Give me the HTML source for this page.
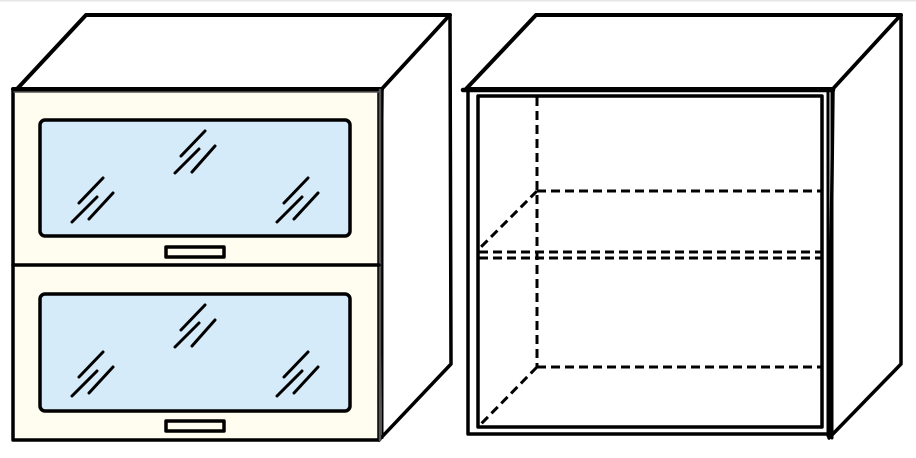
<!DOCTYPE html>
<html><head><meta charset="utf-8"><style>
html,body{margin:0;padding:0;background:#fff;}
svg{display:block;}
</style></head><body>
<svg width="916" height="458" viewBox="0 0 916 458" xmlns="http://www.w3.org/2000/svg">
<rect x="0" y="0" width="916" height="1.5" fill="#e6e6e6"/>
<g stroke="#000" stroke-linejoin="round" stroke-linecap="round" fill="none">
<!-- LEFT CABINET -->
<polygon points="17,89 86,15 450,15 382,89" fill="#fff" stroke-width="4"/>
<polygon points="382,89 450,15 451,364 379,440" fill="#fff" stroke-width="3.5"/>
<rect x="13" y="90" width="366" height="350" fill="#fffdf0" stroke-width="3.5"/>
<line x1="13" y1="89" x2="382" y2="89" stroke-width="4"/>
<line x1="14" y1="92" x2="380" y2="92" stroke="#555" stroke-width="1.5"/>
<line x1="380" y1="90" x2="380" y2="440" stroke="#555" stroke-width="2.5"/>
<line x1="382.5" y1="89" x2="382.5" y2="438" stroke-width="2"/>
<line x1="13" y1="265" x2="379" y2="265" stroke-width="3.5"/>
<rect x="40" y="120" width="310" height="116" rx="5" fill="#d6ebf9" stroke-width="3.5"/>
<rect x="166" y="247" width="58" height="10" fill="#fffdf0" stroke-width="3.5"/>
<rect x="40" y="294" width="310" height="117" rx="5" fill="#d6ebf9" stroke-width="3.5"/>
<rect x="166" y="421" width="58" height="10" fill="#fffdf0" stroke-width="3.5"/>
<g stroke-width="3">
<g id="m">
<line x1="205" y1="131" x2="181" y2="156"/><line x1="199" y1="149" x2="175" y2="173"/><line x1="215" y1="146" x2="192" y2="172"/>
<line x1="103" y1="178" x2="79" y2="203"/><line x1="97" y1="197" x2="72" y2="222"/><line x1="113" y1="193" x2="89" y2="219"/>
<line x1="308" y1="178" x2="284" y2="203"/><line x1="302" y1="197" x2="277" y2="222"/><line x1="318" y1="193" x2="294" y2="219"/>
</g>
<use href="#m" transform="translate(0,174)"/>
</g>
<!-- RIGHT CABINET -->
<polygon points="466,89 536,15 901,15 833,89" fill="#fff" stroke-width="4"/>
<polygon points="833,89 901,15 901,364 829,438" fill="#fff" stroke-width="3.5"/>
<line x1="463" y1="90" x2="833" y2="90" stroke-width="4.5"/>
<polyline points="468,92 468,434 828,434" stroke-width="3.5"/>
<rect x="478" y="96" width="344" height="331" stroke-width="3.5"/>
<line x1="828" y1="92" x2="828" y2="436" stroke-width="3"/>
<line x1="832" y1="90" x2="832" y2="438" stroke-width="3"/>
<g stroke-width="3" stroke-dasharray="9,5" stroke-linecap="butt">
<line x1="537" y1="97" x2="537" y2="367"/>
<line x1="537" y1="191" x2="822" y2="191"/>
<line x1="537" y1="191" x2="478" y2="250"/>
<line x1="479" y1="252" x2="822" y2="252"/>
<line x1="479" y1="258" x2="822" y2="258"/>
<line x1="537" y1="367" x2="822" y2="367"/>
<line x1="537" y1="367" x2="480" y2="425"/>
</g>
</g>
</svg>
</body></html>
